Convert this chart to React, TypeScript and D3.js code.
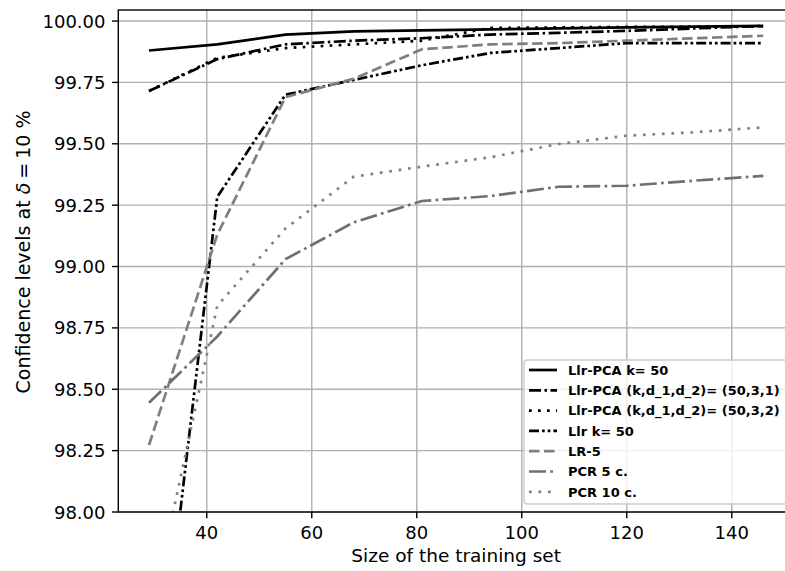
import React from "react";
import * as d3 from "d3";

const trainingSizes = [29, 42, 55, 68, 81, 94, 107, 120, 133, 146];
const llrPca50 = [99.88, 99.905, 99.945, 99.958, 99.962, 99.966, 99.97, 99.974, 99.977, 99.98];
const llrPca531 = [99.715, 99.845, 99.905, 99.92, 99.93, 99.945, 99.952, 99.96, 99.97, 99.98];
const llrPca532 = [99.715, 99.85, 99.89, 99.905, 99.92, 99.972, 99.974, 99.976, 99.977, 99.978];
const llr50 = [96.92, 99.284, 99.7, 99.76, 99.82, 99.87, 99.89, 99.91, 99.91, 99.91];
const lr5 = [98.273, 99.13, 99.69, 99.765, 99.885, 99.905, 99.91, 99.92, 99.93, 99.94];
const pcr5 = [98.445, 98.715, 99.03, 99.18, 99.267, 99.287, 99.325, 99.329, 99.35, 99.369];
const pcr10 = [97.54, 98.84, 99.155, 99.366, 99.407, 99.445, 99.499, 99.533, 99.547, 99.567];

const seriesLabels = [
  "Llr-PCA k= 50",
  "Llr-PCA (k,d_1,d_2)= (50,3,1)",
  "Llr-PCA (k,d_1,d_2)= (50,3,2)",
  "Llr k= 50",
  "LR-5",
  "PCR 5 c.",
  "PCR 10 c.",
];
const seriesValues = [llrPca50, llrPca531, llrPca532, llr50, lr5, pcr5, pcr10];
const seriesColors = ["#000000", "#000000", "#000000", "#000000", "#7f7f7f", "#707070", "#808080"];
const seriesDashes = [
  "none",
  "12 3.5 2.5 3.5",
  "2.7 6.3",
  "10 3 2.7 3 2.7 3",
  "10.5 4.5",
  "17 4.3 2.7 4.3",
  "2.7 6.8",
];

const xTicks = [40, 60, 80, 100, 120, 140];
const yTicks = [98.0, 98.25, 98.5, 98.75, 99.0, 99.25, 99.5, 99.75, 100.0];

const W = 785;
const H = 571;
const L = 118.3;
const R = 794;
const T = 10;
const B = 512;
const FONT = "'DejaVu Sans', sans-serif";

export default function App() {
  const xPad = (d3.max(trainingSizes)! - d3.min(trainingSizes)!) * 0.05;
  const x = d3
    .scaleLinear()
    .domain([d3.min(trainingSizes)! - xPad, d3.max(trainingSizes)! + xPad])
    .range([L, R]);
  const y = d3.scaleLinear().domain([98, 100.045]).range([B, T]);
  const line = d3
    .line<number>()
    .x((_, i) => x(trainingSizes[i]))
    .y((v) => y(v));

  const legLeft = 524;
  const legTop = 360;
  const legBottom = 504;
  const legRight = 787;
  const row0 = 370;
  const pitch = 20.3;

  return (
    <svg
      width={W}
      height={H}
      style={{ position: "absolute", left: 0, top: 0, background: "#fff" }}
      fontFamily={FONT}
    >
      <defs>
        <clipPath id="plotclip">
          <rect x={L} y={T} width={R - L} height={B - T} />
        </clipPath>
      </defs>
      <rect x={0} y={0} width={W} height={H} fill="#fff" />
      {/* grid */}
      <g stroke="#b0b0b0" strokeWidth={1.4}>
        {xTicks.map((t) => (
          <line key={"gx" + t} x1={x(t)} x2={x(t)} y1={T} y2={B} />
        ))}
        {yTicks.map((t) => (
          <line key={"gy" + t} x1={L} x2={R} y1={y(t)} y2={y(t)} />
        ))}
      </g>
      {/* series */}
      <g clipPath="url(#plotclip)" fill="none">
        {seriesValues.map((vals, i) => (
          <path
            key={seriesLabels[i]}
            d={line(vals) || ""}
            stroke={seriesColors[i]}
            strokeWidth={2.7}
            strokeDasharray={seriesDashes[i]}
            strokeLinejoin="round"
          />
        ))}
      </g>
      {/* spines */}
      <rect x={L} y={T} width={R - L} height={B - T} fill="none" stroke="#000" strokeWidth={1.4} />
      {/* ticks */}
      <g stroke="#000" strokeWidth={1.4}>
        {xTicks.map((t) => (
          <line key={"tx" + t} x1={x(t)} x2={x(t)} y1={B} y2={B + 6.3} />
        ))}
        {yTicks.map((t) => (
          <line key={"ty" + t} x1={L - 6.3} x2={L} y1={y(t)} y2={y(t)} />
        ))}
      </g>
      <g fontSize={18} fill="#000">
        {xTicks.map((t) => (
          <text key={"lx" + t} x={x(t)} y={538.5} textAnchor="middle">
            {t}
          </text>
        ))}
        {yTicks.map((t) => (
          <text key={"ly" + t} x={105.5} y={y(t) + 6.6} textAnchor="end">
            {t.toFixed(2)}
          </text>
        ))}
      </g>
      <text x={(L + R) / 2} y={562} textAnchor="middle" fontSize={18.5}>
        Size of the training set
      </text>
      <text
        transform={`translate(30, 252) rotate(-90)`}
        textAnchor="middle"
        fontSize={19}
      >
        Confidence levels at <tspan fontStyle="italic">δ</tspan>
        <tspan dx={4}>=</tspan>
        <tspan dx={4}>10 %</tspan>
      </text>
      {/* legend */}
      <rect
        x={legLeft}
        y={legTop}
        width={legRight - legLeft}
        height={legBottom - legTop}
        rx={3}
        fill="#fff"
        fillOpacity={0.8}
        stroke="#cccccc"
        strokeWidth={1.4}
      />
      {seriesLabels.map((lab, i) => {
        const cy = row0 + i * pitch;
        return (
          <g key={"leg" + lab}>
            <line
              x1={529}
              x2={557}
              y1={cy}
              y2={cy}
              stroke={seriesColors[i]}
              strokeWidth={2.7}
              strokeDasharray={seriesDashes[i]}
            />
            <text x={568} y={cy + 4.8} fontSize={13} fontWeight="bold">
              {lab}
            </text>
          </g>
        );
      })}
    </svg>
  );
}
